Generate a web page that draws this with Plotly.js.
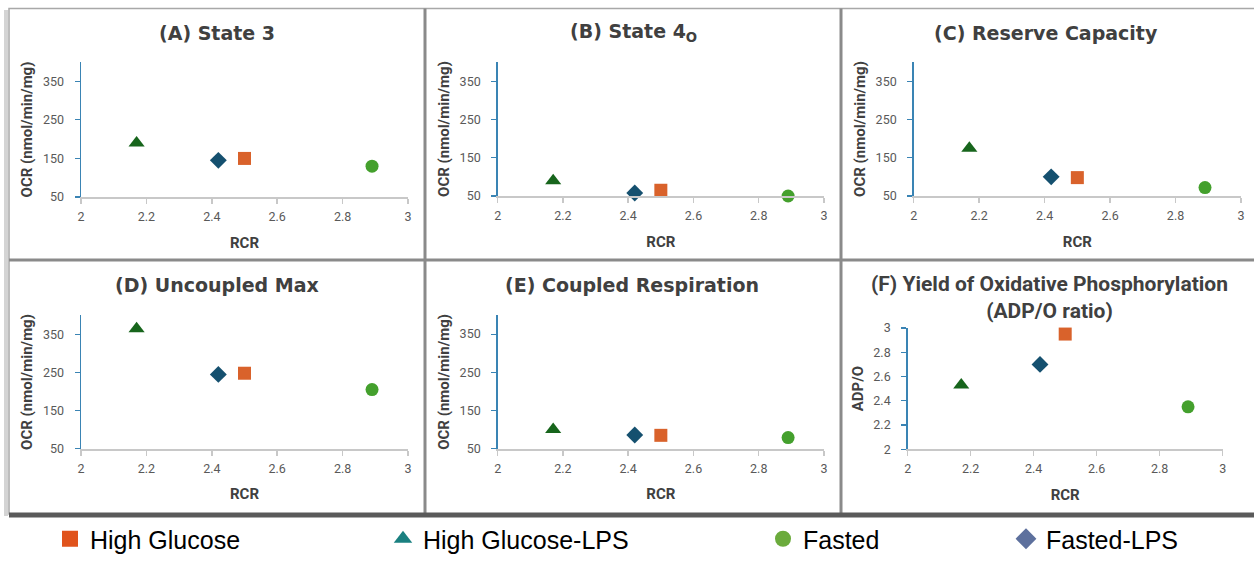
<!DOCTYPE html>
<html>
<head>
<meta charset="utf-8">
<script src="https://cdn.plot.ly/plotly-3.0.1.min.js"></script>
<style>html,body{margin:0;padding:0;background:#fff;}#chart{width:1254px;height:562px;}</style>
</head>
<body>
<div id="chart"></div>
<script>
// ---- data ----
const groups = ['High Glucose', 'High Glucose-LPS', 'Fasted', 'Fasted-LPS'];
const rcr = [2.5, 2.17, 2.89, 2.42];
const state3 = [150, 190, 130, 145];
const state4o = [65, 90, 50, 58];
const reserveCapacity = [98, 175, 72, 100];
const uncoupledMax = [248, 365, 205, 245];
const coupledResp = [85, 100, 79, 86];
const adpO = [2.95, 2.53, 2.35, 2.70];
const panelTitles = ['(A) State 3', '(B) State 4<sub>O</sub>', '(C) Reserve Capacity',
  '(D) Uncoupled Max', '(E) Coupled Respiration', '(F) Yield of Oxidative Phosphorylation<br>(ADP/O ratio)'];
const xTitle = 'RCR';
const yTitleOCR = 'OCR (nmol/min/mg)';
const yTitleADP = 'ADP/O';

// ---- styles ----
const symbols = ['square', 'triangle-up', 'circle', 'diamond'];
const markerSizes = [13, 14, 13, 13];
const plotColors = ['#D9622B', '#17651C', '#44A02D', '#15506F'];
const legendColors = ['#E0531C', '#1A8080', '#6BAB3C', '#5D709D'];
const W = 1254, H = 562;
const px = v => v / W;
const py = v => 1 - v / H;

const panels = [
  {vals: state3, dom: [81, 408, 197, 62]},
  {vals: state4o, dom: [497.7, 824, 196, 62]},
  {vals: reserveCapacity, dom: [913.7, 1241, 196, 62]},
  {vals: uncoupledMax, dom: [81, 408, 448.7, 315.3]},
  {vals: coupledResp, dom: [497.7, 824, 448.7, 315]},
  {vals: adpO, dom: [907.7, 1222.7, 449.3, 328]}
];

const traces = [];
const layout = {
  width: W, height: H,
  margin: {l: 0, r: 0, t: 0, b: 0},
  paper_bgcolor: '#ffffff', plot_bgcolor: 'rgba(0,0,0,0)',
  showlegend: true,
  annotations: [], shapes: []
};

const tickFont = {family: 'Roboto', size: 12.5, color: '#595959'};
const axTitleFont = {family: 'Roboto', size: 15, color: '#404040', weight: 'bold'};

panels.forEach((p, i) => {
  const n = i + 1;
  const xa = 'x' + (n === 1 ? '' : n), ya = 'y' + (n === 1 ? '' : n);
  traces.push({
    type: 'scatter', mode: 'markers', xaxis: xa, yaxis: ya,
    x: rcr, y: p.vals, text: groups, showlegend: false, cliponaxis: false,
    marker: {symbol: symbols, color: plotColors, size: markerSizes, opacity: 1, line: {width: 0}},
    hovertemplate: '%{text}<br>RCR %{x}<br>%{y}<extra></extra>'
  });
  const isADP = (i === 5);
  layout['xaxis' + (n === 1 ? '' : n)] = {
    domain: [px(p.dom[0]), px(p.dom[1])], anchor: ya,
    range: [2, 3], tick0: 2, dtick: 0.2,
    showgrid: false, zeroline: false,
    showline: true, linecolor: '#c8c8c8', linewidth: 2,
    ticks: 'outside', ticklen: 5, tickwidth: 1.5, tickcolor: '#c8c8c8',
    tickfont: tickFont, ticklabelstandoff: 2,
    title: {text: xTitle, font: axTitleFont, standoff: 14}
  };
  layout['yaxis' + (n === 1 ? '' : n)] = {
    domain: [py(p.dom[2]), py(p.dom[3])], anchor: xa,
    range: isADP ? [2, 3] : [50, 400],
    tick0: isADP ? 2 : 50, dtick: isADP ? 0.2 : 100,
    showgrid: false, zeroline: false,
    showline: true, linecolor: '#3A84B4', linewidth: 1.5,
    ticks: 'outside', ticklen: 5, tickwidth: 1.2, tickcolor: '#3A84B4',
    tickfont: tickFont, ticklabelstandoff: 8,
    title: {text: isADP ? yTitleADP : yTitleOCR, font: axTitleFont, standoff: 6}
  };
});

// legend dummy traces (one legend each)
const legendX = [50, 383, 763, 1006];
groups.forEach((g, i) => {
  const lg = 'legend' + (i === 0 ? '' : (i + 1));
  traces.push({
    type: 'scatter', mode: 'markers', x: [null], y: [null], name: g,
    legend: lg, showlegend: true, hoverinfo: 'skip',
    marker: {symbol: symbols[i], color: legendColors[i], size: 16}
  });
  layout[lg] = {
    orientation: 'h', x: px(legendX[i]), xanchor: 'left',
    y: 0, yanchor: 'bottom', bgcolor: 'rgba(0,0,0,0)',
    font: {family: 'Liberation Sans', size: 25, color: '#000000'}
  };
});

// titles
const titlePos = [[217, 33], [633, 33], [1046, 33], [217, 285], [632, 285], [1049, 297]];
panelTitles.forEach((t, i) => {
  const isF = i === 5;
  layout.annotations.push({
    xref: 'paper', yref: 'paper', x: px(titlePos[i][0]), y: py(titlePos[i][1]),
    xanchor: 'center', yanchor: 'middle', showarrow: false, text: t,
    font: isF ? {family: 'Roboto', size: 21, color: '#404040', weight: 'bold'}
              : {family: 'DejaVu Sans', size: 19, color: '#404040', weight: 'bold'}
  });
});

// panel frames
const gray = '#8a8a8a';
layout.shapes.push(
  {type: 'line', xref: 'paper', yref: 'paper', x0: px(6), x1: px(6), y0: py(10), y1: py(516), line: {color: '#d4d4d4', width: 4}},
  {type: 'rect', xref: 'paper', yref: 'paper', x0: px(9), x1: px(1256), y0: py(8.5), y1: py(514), line: {color: '#a8a8a8', width: 1.5}},
  {type: 'line', xref: 'paper', yref: 'paper', x0: px(425), x1: px(425), y0: py(8.5), y1: py(514), line: {color: gray, width: 3}},
  {type: 'line', xref: 'paper', yref: 'paper', x0: px(841), x1: px(841), y0: py(8.5), y1: py(514), line: {color: gray, width: 3}},
  {type: 'line', xref: 'paper', yref: 'paper', x0: px(9), x1: px(1254), y0: py(260), y1: py(260), line: {color: gray, width: 3}},
  {type: 'line', xref: 'paper', yref: 'paper', x0: px(9), x1: px(1254), y0: py(515), y1: py(515), line: {color: '#5a5a5a', width: 5}}
);

Plotly.newPlot('chart', traces, layout, {displayModeBar: false, staticPlot: true});
</script>
</body>
</html>
